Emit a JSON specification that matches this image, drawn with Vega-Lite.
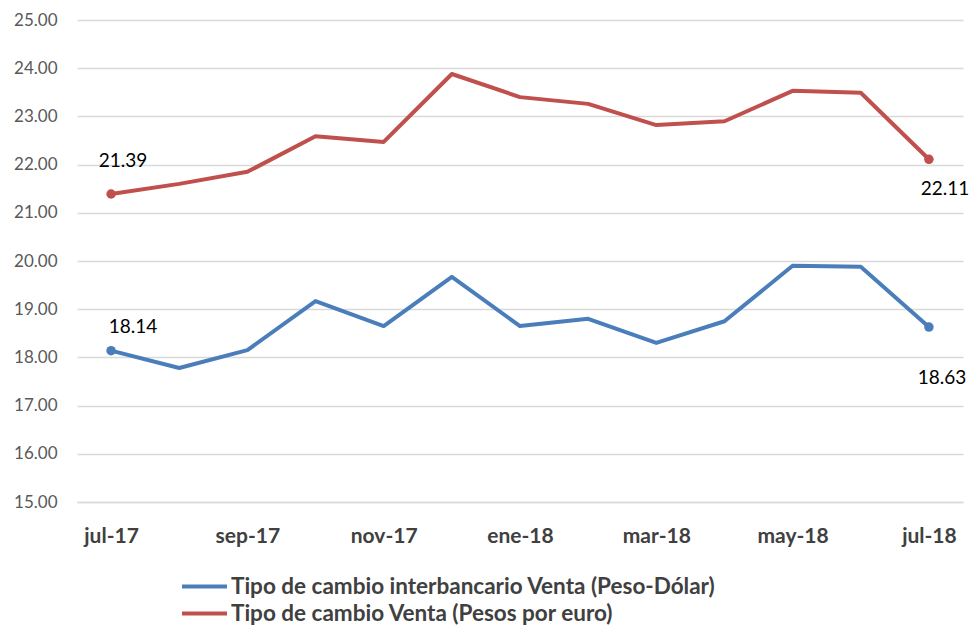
{
  "$schema": "https://vega.github.io/schema/vega-lite/v6.json",
  "autosize": {"type": "none"},
  "width": 886,
  "height": 482,
  "padding": {"left": 77, "top": 20, "right": 8, "bottom": 125},
  "background": "white",
  "config": {
    "view": {"stroke": null},
    "font": "Lato"
  },
  "data": {
    "values": [
      {"mes": "jul-17", "serie": "Tipo de cambio interbancario Venta (Peso-Dólar)", "valor": 18.14},
      {"mes": "ago-17", "serie": "Tipo de cambio interbancario Venta (Peso-Dólar)", "valor": 17.78},
      {"mes": "sep-17", "serie": "Tipo de cambio interbancario Venta (Peso-Dólar)", "valor": 18.15},
      {"mes": "oct-17", "serie": "Tipo de cambio interbancario Venta (Peso-Dólar)", "valor": 19.17},
      {"mes": "nov-17", "serie": "Tipo de cambio interbancario Venta (Peso-Dólar)", "valor": 18.65},
      {"mes": "dic-17", "serie": "Tipo de cambio interbancario Venta (Peso-Dólar)", "valor": 19.67},
      {"mes": "ene-18", "serie": "Tipo de cambio interbancario Venta (Peso-Dólar)", "valor": 18.65},
      {"mes": "feb-18", "serie": "Tipo de cambio interbancario Venta (Peso-Dólar)", "valor": 18.80},
      {"mes": "mar-18", "serie": "Tipo de cambio interbancario Venta (Peso-Dólar)", "valor": 18.30},
      {"mes": "abr-18", "serie": "Tipo de cambio interbancario Venta (Peso-Dólar)", "valor": 18.75},
      {"mes": "may-18", "serie": "Tipo de cambio interbancario Venta (Peso-Dólar)", "valor": 19.90},
      {"mes": "jun-18", "serie": "Tipo de cambio interbancario Venta (Peso-Dólar)", "valor": 19.88},
      {"mes": "jul-18", "serie": "Tipo de cambio interbancario Venta (Peso-Dólar)", "valor": 18.63},
      {"mes": "jul-17", "serie": "Tipo de cambio Venta (Pesos por euro)", "valor": 21.39},
      {"mes": "ago-17", "serie": "Tipo de cambio Venta (Pesos por euro)", "valor": 21.60},
      {"mes": "sep-17", "serie": "Tipo de cambio Venta (Pesos por euro)", "valor": 21.85},
      {"mes": "oct-17", "serie": "Tipo de cambio Venta (Pesos por euro)", "valor": 22.59},
      {"mes": "nov-17", "serie": "Tipo de cambio Venta (Pesos por euro)", "valor": 22.47},
      {"mes": "dic-17", "serie": "Tipo de cambio Venta (Pesos por euro)", "valor": 23.88},
      {"mes": "ene-18", "serie": "Tipo de cambio Venta (Pesos por euro)", "valor": 23.40},
      {"mes": "feb-18", "serie": "Tipo de cambio Venta (Pesos por euro)", "valor": 23.26},
      {"mes": "mar-18", "serie": "Tipo de cambio Venta (Pesos por euro)", "valor": 22.82},
      {"mes": "abr-18", "serie": "Tipo de cambio Venta (Pesos por euro)", "valor": 22.90},
      {"mes": "may-18", "serie": "Tipo de cambio Venta (Pesos por euro)", "valor": 23.53},
      {"mes": "jun-18", "serie": "Tipo de cambio Venta (Pesos por euro)", "valor": 23.49},
      {"mes": "jul-18", "serie": "Tipo de cambio Venta (Pesos por euro)", "valor": 22.11}
    ]
  },
  "encoding": {
    "x": {
      "field": "mes",
      "type": "ordinal",
      "sort": null,
      "scale": {"type": "point", "padding": 0.5},
      "axis": {
        "title": null,
        "values": ["jul-17", "sep-17", "nov-17", "ene-18", "mar-18", "may-18", "jul-18"],
        "labelAngle": 0,
        "labelFontSize": 21,
        "labelFontWeight": "bold",
        "labelColor": "#404040",
        "labelPadding": 23,
        "ticks": false,
        "domain": true,
        "domainColor": "#d9d9d9",
        "domainWidth": 1.5,
        "grid": false
      }
    },
    "y": {
      "field": "valor",
      "type": "quantitative",
      "scale": {"domain": [15, 25], "nice": false, "zero": false},
      "axis": {
        "title": null,
        "values": [15, 16, 17, 18, 19, 20, 21, 22, 23, 24, 25],
        "format": ".2f",
        "labelFontSize": 17,
        "labelColor": "#595959",
        "labelPadding": 20,
        "ticks": false,
        "domain": false,
        "grid": true,
        "gridColor": "#d9d9d9",
        "gridWidth": 1.5
      }
    },
    "color": {
      "field": "serie",
      "type": "nominal",
      "sort": null,
      "scale": {
        "domain": ["Tipo de cambio interbancario Venta (Peso-Dólar)", "Tipo de cambio Venta (Pesos por euro)"],
        "range": ["#4a7ebb", "#c0504d"]
      },
      "legend": {
        "title": null,
        "orient": "none",
        "legendX": 103,
        "legendY": 553,
        "direction": "vertical",
        "symbolType": "stroke",
        "symbolSize": 2025,
        "symbolStrokeWidth": 4,
        "clipHeight": 27,
        "labelFontSize": 22.5,
        "labelFontWeight": "bold",
        "labelColor": "#404040",
        "labelLimit": 800,
        "rowPadding": 0,
        "labelOffset": 2
      }
    }
  },
  "layer": [
    {
      "mark": {"type": "line", "strokeWidth": 4, "strokeJoin": "round"}
    },
    {
      "transform": [{"filter": "datum.mes === 'jul-17' || datum.mes === 'jul-18'"}],
      "mark": {"type": "circle", "size": 90, "opacity": 1}
    },
    {
      "transform": [{"filter": "datum.mes === 'jul-17' && datum.serie === 'Tipo de cambio Venta (Pesos por euro)'"}],
      "mark": {"type": "text", "fontSize": 19, "dy": -33, "dx": 12},
      "encoding": {
        "text": {"field": "valor", "type": "quantitative", "format": ".2f"},
        "color": {"value": "#000000"}
      }
    },
    {
      "transform": [{"filter": "datum.mes === 'jul-17' && datum.serie === 'Tipo de cambio interbancario Venta (Peso-Dólar)'"}],
      "mark": {"type": "text", "fontSize": 19, "dy": -24, "dx": 22},
      "encoding": {
        "text": {"field": "valor", "type": "quantitative", "format": ".2f"},
        "color": {"value": "#000000"}
      }
    },
    {
      "transform": [{"filter": "datum.mes === 'jul-18' && datum.serie === 'Tipo de cambio Venta (Pesos por euro)'"}],
      "mark": {"type": "text", "fontSize": 19, "dy": 30, "dx": 16},
      "encoding": {
        "text": {"field": "valor", "type": "quantitative", "format": ".2f"},
        "color": {"value": "#000000"}
      }
    },
    {
      "transform": [{"filter": "datum.mes === 'jul-18' && datum.serie === 'Tipo de cambio interbancario Venta (Peso-Dólar)'"}],
      "mark": {"type": "text", "fontSize": 19, "dy": 51, "dx": 13},
      "encoding": {
        "text": {"field": "valor", "type": "quantitative", "format": ".2f"},
        "color": {"value": "#000000"}
      }
    }
  ]
}
